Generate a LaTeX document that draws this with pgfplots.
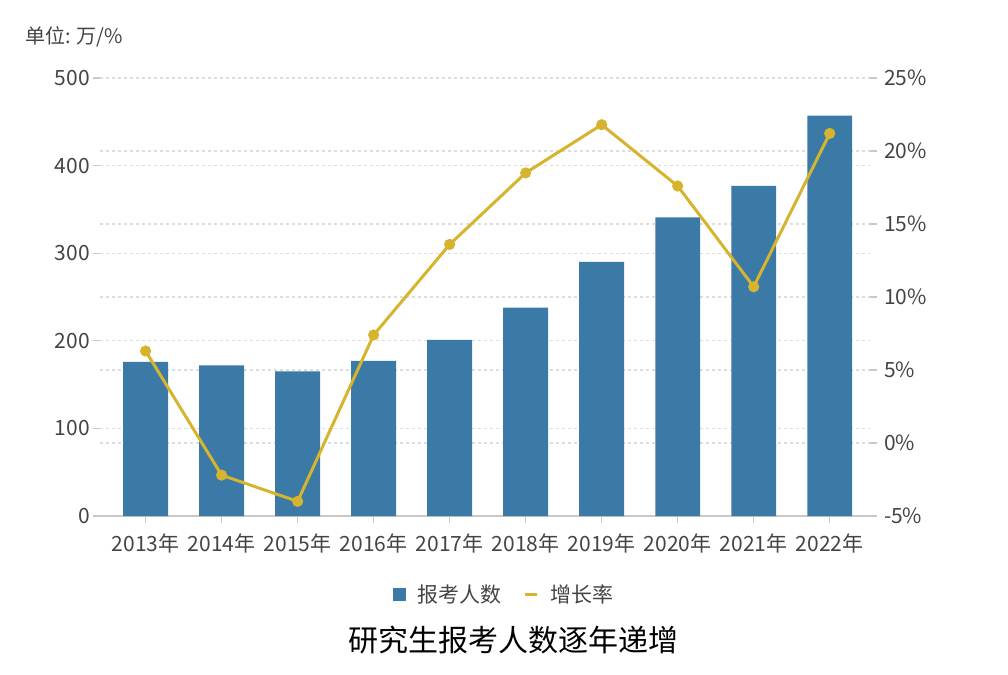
\documentclass[border=0pt]{standalone}
\usepackage{pgfplots}
\pgfplotsset{compat=1.18}
\usepackage{fontspec}
\setmainfont{Noto Sans CJK SC}
\definecolor{barblue}{HTML}{3B79A7}
\definecolor{lineyellow}{HTML}{D6B42E}
\definecolor{txtgray}{HTML}{444444}
\definecolor{gridgray}{HTML}{DDDDDD}
\definecolor{axgray}{HTML}{C8C8C8}
\begin{document}
\begin{tikzpicture}
\path[use as bounding box] (-50pt,-79.5pt) rectangle (454pt,258pt);
\pgfplotsset{
  common/.style={
    scale only axis, width=385pt, height=219pt,
    xmin=-0.6, xmax=9.53,
    /pgf/number format/assume math mode=true,
    tick label style={font=\fontsize{10.5}{12}\selectfont, text=txtgray},
    major tick length=3.5pt,
    tick align=outside,
    tick style={axgray, line width=0.6pt},
    grid style={gridgray, dash pattern=on 1.5pt off 1.5pt, line width=0.6pt},
  }
}
\begin{axis}[common,
  ymin=0, ymax=500,
  ytick={0,100,...,500},
  ymajorgrids,
  extra y ticks={83.333,166.667,250,333.333,416.667},
  extra y tick labels={},
  extra y tick style={ymajorgrids=true, major tick length=0pt},
  xtick={0,...,9},
  xticklabels={2013年,2014年,2015年,2016年,2017年,2018年,2019年,2020年,2021年,2022年},
  axis x line*=bottom, axis y line*=left,
  x axis line style={axgray, line width=0.8pt, -},
  y axis line style={draw=none},
  xtick style={axgray, line width=0.6pt},
  xticklabel style={yshift=-2pt},
  yticklabel style={xshift=2pt},
]
\addplot[ybar, bar width=0.59, bar shift=0pt, fill=barblue, draw=none]
  coordinates {(0,176) (1,172) (2,165) (3,177) (4,201) (5,238) (6,290) (7,341) (8,377) (9,457)};
\end{axis}
\begin{axis}[common,
  ymin=-5, ymax=25,
  ytick={-5,0,...,25},
  yticklabel={\pgfmathprintnumber{\tick}\%},
  axis y line*=right, axis x line=none,
  y axis line style={draw=none},
  legend style={draw=none, fill=none, legend columns=-1,
    at={(0.526,-0.18)}, anchor=center,
    font=\fontsize{10.5}{12}\selectfont, text=txtgray,
    /tikz/every odd column/.append style={column sep=4pt},
    /tikz/every even column/.append style={column sep=9pt}},
  legend cell align=left,
]
\addlegendimage{legend image code/.code={\fill[barblue] (0pt,-3pt) rectangle (6pt,3pt);}}
\addlegendentry{报考人数}
\addplot[lineyellow, line width=1.5pt, mark=*, mark size=2pt, mark options={fill=lineyellow},
  legend image code/.code={\draw[lineyellow, line width=1.5pt] (0pt,0pt) -- (6pt,0pt);}]
  coordinates {(0,6.3) (1,-2.2) (2,-4.0) (3,7.4) (4,13.6) (5,18.5) (6,21.8) (7,17.6) (8,10.7) (9,21.2)};
\addlegendentry{增长率}
\end{axis}
\node[anchor=west, text=txtgray, font=\fontsize{10}{12}\selectfont] at (-41pt,239.5pt) {单位: 万/\%};
\node[font=\fontsize{15}{18}\selectfont] at (207pt,-62pt) {研究生报考人数逐年递增};
\end{tikzpicture}
\end{document}
